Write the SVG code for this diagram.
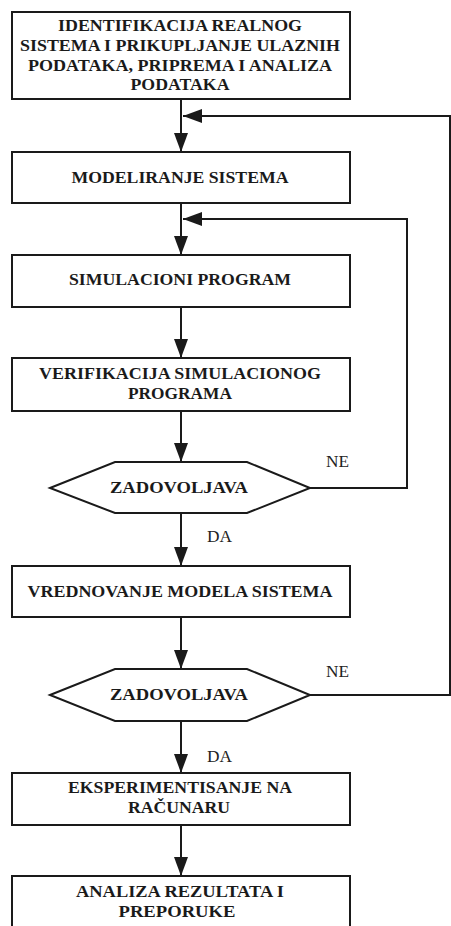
<svg xmlns="http://www.w3.org/2000/svg" width="451" height="926" viewBox="0 0 451 926">
<defs>
<style>
.box{fill:#fff;stroke:#1a1a1a;stroke-width:2}
.t{font-family:'Liberation Serif',serif;font-weight:bold;font-size:17px;fill:#1a1a1a;text-anchor:middle}
.l{font-family:'Liberation Serif',serif;font-size:16.5px;fill:#222}
.c{fill:none;stroke:#1a1a1a;stroke-width:2}
</style>
<marker id="ah" markerUnits="userSpaceOnUse" markerWidth="20" markerHeight="14" refX="19" refY="7" orient="auto" viewBox="0 0 20 14">
<path d="M0,0 L19,7 L0,14 z" fill="#1a1a1a"/>
</marker>
</defs>
<rect width="451" height="926" fill="#fff"/>
<g id="connectors">
<line class="c" x1="181" y1="99" x2="181" y2="152" marker-end="url(#ah)"/>
<line class="c" x1="181" y1="203" x2="181" y2="255" marker-end="url(#ah)"/>
<line class="c" x1="181" y1="307" x2="181" y2="358" marker-end="url(#ah)"/>
<line class="c" x1="181" y1="411" x2="181" y2="462" marker-end="url(#ah)"/>
<line class="c" x1="181" y1="513" x2="181" y2="566" marker-end="url(#ah)"/>
<line class="c" x1="181" y1="617" x2="181" y2="669" marker-end="url(#ah)"/>
<line class="c" x1="181" y1="721" x2="181" y2="773" marker-end="url(#ah)"/>
<line class="c" x1="181" y1="825" x2="181" y2="876" marker-end="url(#ah)"/>
<polyline class="c" points="310,488 407,488 407,219 183,219" marker-end="url(#ah)"/>
<polyline class="c" points="310,695 450,695 450,116 183,116" marker-end="url(#ah)"/>
<text class="l" x="326" y="467" textLength="23" lengthAdjust="spacingAndGlyphs">NE</text>
<text class="l" x="207" y="542" textLength="25" lengthAdjust="spacingAndGlyphs">DA</text>
<text class="l" x="326" y="677" textLength="23" lengthAdjust="spacingAndGlyphs">NE</text>
<text class="l" x="207" y="762" textLength="25" lengthAdjust="spacingAndGlyphs">DA</text>
</g>
<g id="n1">
<rect class="box" x="12" y="12" width="338" height="87"/>
<text class="t" x="180" y="30.5" textLength="244" lengthAdjust="spacingAndGlyphs">IDENTIFIKACIJA REALNOG</text>
<text class="t" x="180" y="50.5" textLength="320" lengthAdjust="spacingAndGlyphs">SISTEMA I PRIKUPLJANJE ULAZNIH</text>
<text class="t" x="180" y="70.5" textLength="304" lengthAdjust="spacingAndGlyphs">PODATAKA, PRIPREMA I ANALIZA</text>
<text class="t" x="180" y="89.5" textLength="99" lengthAdjust="spacingAndGlyphs">PODATAKA</text>
</g>
<g id="n2">
<rect class="box" x="12" y="152" width="338" height="51"/>
<text class="t" x="180" y="183" textLength="217" lengthAdjust="spacingAndGlyphs">MODELIRANJE SISTEMA</text>
</g>
<g id="n3">
<rect class="box" x="12" y="255" width="338" height="52"/>
<text class="t" x="180" y="285" textLength="222" lengthAdjust="spacingAndGlyphs">SIMULACIONI PROGRAM</text>
</g>
<g id="n4">
<rect class="box" x="12" y="358" width="338" height="53"/>
<text class="t" x="180" y="379" textLength="282" lengthAdjust="spacingAndGlyphs">VERIFIKACIJA SIMULACIONOG</text>
<text class="t" x="180" y="398.5" textLength="104" lengthAdjust="spacingAndGlyphs">PROGRAMA</text>
</g>
<g id="n5">
<polygon class="box" points="50,488 115,462 247,462 310,488 247,513 115,513"/>
<text class="t" x="179" y="493" textLength="138" lengthAdjust="spacingAndGlyphs">ZADOVOLJAVA</text>
</g>
<g id="n6">
<rect class="box" x="12" y="566" width="338" height="51"/>
<text class="t" x="180" y="597" textLength="305" lengthAdjust="spacingAndGlyphs">VREDNOVANJE MODELA SISTEMA</text>
</g>
<g id="n7">
<polygon class="box" points="50,695 115,669 247,669 310,695 247,721 115,721"/>
<text class="t" x="179" y="700" textLength="138" lengthAdjust="spacingAndGlyphs">ZADOVOLJAVA</text>
</g>
<g id="n8">
<rect class="box" x="12" y="773" width="338" height="52"/>
<text class="t" x="180" y="793" textLength="224" lengthAdjust="spacingAndGlyphs">EKSPERIMENTISANJE NA</text>
<text class="t" x="179" y="813" textLength="102" lengthAdjust="spacingAndGlyphs">RAČUNARU</text>
</g>
<g id="n9">
<rect class="box" x="12" y="876" width="338" height="70"/>
<text class="t" x="180" y="897" textLength="208" lengthAdjust="spacingAndGlyphs">ANALIZA REZULTATA I</text>
<text class="t" x="177" y="917" textLength="117" lengthAdjust="spacingAndGlyphs">PREPORUKE</text>
</g>
</svg>
